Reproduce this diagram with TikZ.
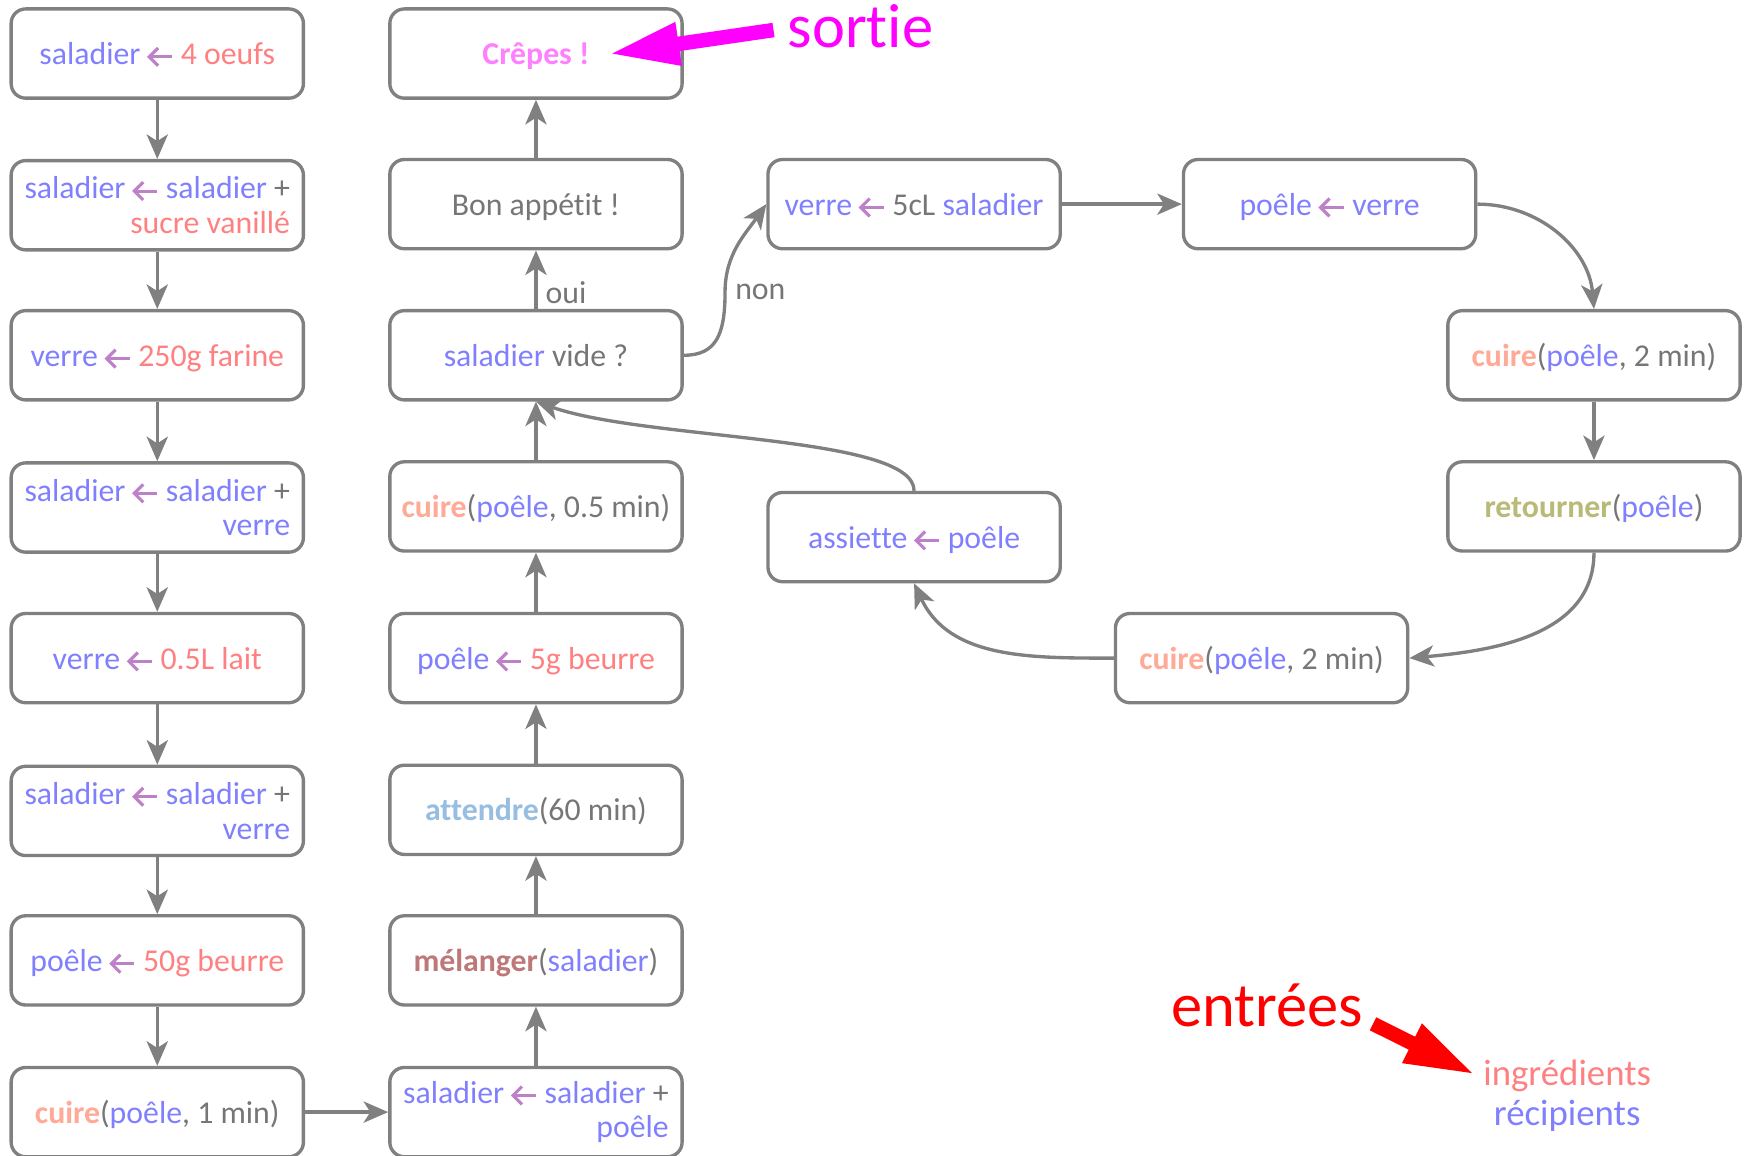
\documentclass[tikz,border=0pt]{standalone}
\usepackage{fontspec}
\setmainfont{Carlito}[Ligatures=NoCommon]
\usetikzlibrary{arrows.meta}
\definecolor{cblue}{RGB}{128,128,255}
\definecolor{cred}{RGB}{255,128,128}
\definecolor{carr}{RGB}{190,128,200}
\definecolor{cgray}{RGB}{118,118,118}
\definecolor{lgray}{RGB}{128,128,128}
\definecolor{ccuire}{RGB}{255,170,150}
\definecolor{catt}{RGB}{150,190,225}
\definecolor{cmel}{RGB}{190,120,120}
\definecolor{cret}{RGB}{185,185,120}
\definecolor{cpink}{RGB}{255,128,255}
\definecolor{cmag}{RGB}{255,0,255}
\definecolor{cbright}{RGB}{255,0,0}
\newcommand{\Bl}[1]{\textcolor{cblue}{#1}}
\newcommand{\Rd}[1]{\textcolor{cred}{#1}}
\newcommand{\La}{\tikz[baseline=0pt,x=1pt,y=1pt,sharp corners]{\draw[carr,line width=2.8pt,line cap=butt,sharp corners] (22,7) -- (2.5,7); \draw[carr,line width=2.8pt,line join=miter,line cap=butt,sharp corners] (9.5,15) -- (1.5,7) -- (9.5,-1);}}
\newcommand{\Cu}{\textbf{\textcolor{ccuire}{cuire}}}
\tikzset{
  boxbase/.style={draw=lgray, line width=3pt, rounded corners=13pt, minimum width=262pt,
    minimum height=80pt, inner sep=0pt, text=cgray, fill=white,
    font=\fontsize{28.5}{31}\selectfont},
  box/.style={boxbase, text height=20pt, text depth=0pt},
  two/.style={boxbase, align=right},
  conn/.style={draw=lgray, line width=3pt, -{Stealth[length=22pt,width=19pt,inset=6pt]}},
  lbl/.style={text=cgray, inner sep=0pt, font=\fontsize{28.5}{31}\selectfont}
}
\begin{document}
\begin{tikzpicture}[x=1pt,y=1pt]
\useasboundingbox (0,0) rectangle (1568,-1035.5);
% column 1
\node[box] (a1) at (141,-48) {\Bl{saladier} \La{} \Rd{4 oeufs}};
\node[two] (a2) at (141,-184) {\Bl{saladier} \La{} \Bl{saladier} +\\\Rd{sucre vanillé}};
\node[box] (a3) at (141,-318.5) {\Bl{verre} \La{} \Rd{250g farine}};
\node[two] (a4) at (141,-455) {\Bl{saladier} \La{} \Bl{saladier} +\\\Bl{verre}};
\node[box] (a5) at (141,-590) {\Bl{verre} \La{} \Rd{0.5L lait}};
\node[two] (a6) at (141,-727) {\Bl{saladier} \La{} \Bl{saladier} +\\\Bl{verre}};
\node[box] (a7) at (141,-861) {\Bl{poêle} \La{} \Rd{50g beurre}};
\node[box] (a8) at (141,-997) {\Cu(\Bl{poêle}, 1 min)};
% column 2
\node[box] (b1) at (480.5,-48) {\textbf{\textcolor{cpink}{Crêpes !}}};
\node[box] (b2) at (480.5,-183) {Bon appétit !};
\node[box] (b3) at (480.5,-318.5) {\Bl{saladier} vide ?};
\node[box] (b4) at (480.5,-454) {\Cu(\Bl{poêle}, 0.5 min)};
\node[box] (b5) at (480.5,-590) {\Bl{poêle} \La{} \Rd{5g beurre}};
\node[box] (b6) at (480.5,-726) {\textbf{\textcolor{catt}{attendre}}(60 min)};
\node[box] (b7) at (480.5,-861) {\textbf{\textcolor{cmel}{mélanger}}(\Bl{saladier})};
\node[two] (b8) at (480.5,-997) {\Bl{saladier} \La{} \Bl{saladier} +\\\Bl{poêle}};
% loop
\node[box] (v5) at (819.5,-183) {\Bl{verre} \La{} 5cL \Bl{saladier}};
\node[box] (pv) at (1192,-183) {\Bl{poêle} \La{} \Bl{verre}};
\node[box] (c2a) at (1429,-318.5) {\Cu(\Bl{poêle}, 2 min)};
\node[box] (ret) at (1429,-454) {\textbf{\textcolor{cret}{retourner}}(\Bl{poêle})};
\node[box] (c2b) at (1131,-590) {\Cu(\Bl{poêle}, 2 min)};
\node[box] (ass) at (819.5,-481.5) {\Bl{assiette} \La{} \Bl{poêle}};
% connectors
\foreach \i/\j in {a1/a2,a2/a3,a3/a4,a4/a5,a5/a6,a6/a7,a7/a8,a8/b8,b8/b7,b7/b6,b6/b5,b5/b4,b4/b3,b3/b2,b2/b1,v5/pv,c2a/ret}
  \draw[conn] (\i) -- (\j);
\node[lbl, anchor=west] (oui) at (489,-262) {oui};
\node[lbl, anchor=west] (non) at (659,-262) {non};
\coordinate (nonmid) at (650,-262);
\draw[conn] (b3.east) .. controls (642,-318.5) and (650,-300) .. (nonmid) .. controls (650,-228) and (668,-210) .. (v5.west);
\draw[conn] (pv.east) to[out=0,in=95] (c2a.north);
\draw[conn] (ret.south) to[out=-90,in=5] (c2b.east);
\draw[conn] (c2b.west) to[out=180,in=-65] (ass.south);
\draw[conn] (ass.north) .. controls (819.5,-390) and (580,-395) .. (b3.south);
% sortie
\begin{scope}[shift={(549,-48)}, rotate=8.3]
\fill[cmag] (0,0) -- (60,20) -- (60,6.5) -- (146,6.5) -- (146,-6.5) -- (60,-6.5) -- (60,-20) -- cycle;
\end{scope}
\node[anchor=base west, inner sep=0pt, text=cmag, font=\fontsize{56}{60}\selectfont] (sortie) at (706,-43) {sortie};
% entrees
\begin{scope}[shift={(1319.5,-962)}, rotate=153.5]
\fill[cbright] (0,0) -- (60,20) -- (60,6.5) -- (99,6.5) -- (99,-6.5) -- (60,-6.5) -- (60,-20) -- cycle;
\end{scope}
\node[anchor=base west, inner sep=0pt, text=cbright, font=\fontsize{56}{60}\selectfont] (entrees) at (1050,-920) {entrées};
\node[anchor=base, inner sep=0pt, text=cred, font=\fontsize{33}{36}\selectfont] (ingr) at (1405,-973) {ingrédients};
\node[anchor=base, inner sep=0pt, text=cblue, font=\fontsize{33}{36}\selectfont] (recip) at (1405,-1009) {récipients};
\end{tikzpicture}
\end{document}
